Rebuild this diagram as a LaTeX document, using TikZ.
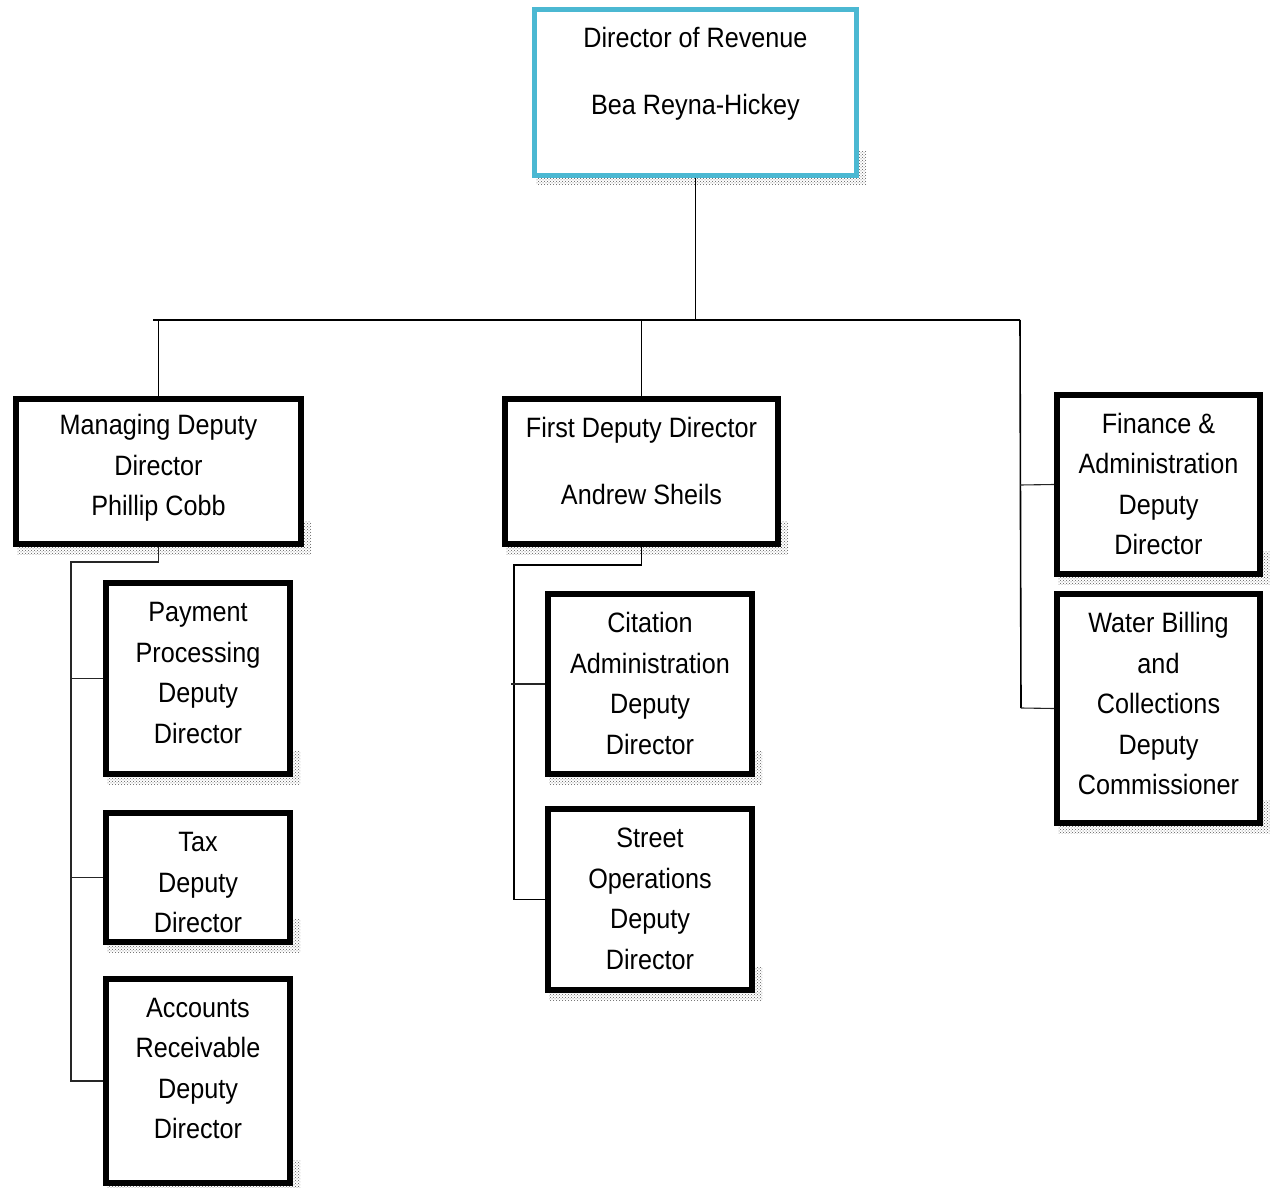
\documentclass[tikz,border=0pt]{standalone}
\usepackage{fontspec}
\setmainfont[FakeStretch=0.9]{Liberation Sans}
\usetikzlibrary{patterns,calc}
\definecolor{topcyan}{RGB}{75,184,210}
\tikzset{
  box/.style={draw=black, line width=6pt, fill=white, rectangle, inner sep=0pt},
  topbox/.style={box, line width=5pt, draw=topcyan},
  lbl/.style={align=center, inner sep=0pt, font=\fontsize{28}{40.5}\selectfont},
  conn/.style={line width=1.6pt, black},
  thinconn/.style={line width=1.1pt, black!85},
  shadowfill/.style={pattern=crosshatch dots, pattern color=black!65},
}
\newcommand{\boxshadow}[1]{%
  \fill[shadowfill] ([xshift=4pt]#1.south west) rectangle ([xshift=7pt,yshift=-7pt]#1.south east);
  \fill[shadowfill] ([yshift=26pt]#1.south east) rectangle ([xshift=7pt]#1.south east);
}
\begin{document}
\begin{tikzpicture}[x=1pt,y=-1pt]
\useasboundingbox (0,0) rectangle (1270,1188);

% boxes
\node[topbox, minimum width=322pt, minimum height=166pt] (dir) at (695.5,92.5) {};
\node[box, minimum width=285pt, minimum height=145pt] (mdd) at (158.5,471.5) {};
\node[box, minimum width=273pt, minimum height=145pt] (fdd) at (641.5,471.5) {};
\node[box, minimum width=203pt, minimum height=179pt] (fin) at (1158.5,484.5) {};
\node[box, minimum width=203pt, minimum height=229pt] (wat) at (1158.5,708.5) {};
\node[box, minimum width=184pt, minimum height=191pt] (pay) at (198,678.5) {};
\node[box, minimum width=184pt, minimum height=129pt] (tax) at (198,877.5) {};
\node[box, minimum width=184pt, minimum height=204pt] (acc) at (198,1081) {};
\node[box, minimum width=204pt, minimum height=180pt] (cit) at (650,684) {};
\node[box, minimum width=204pt, minimum height=181pt] (str) at (650,899.5) {};

% shadows
\boxshadow{dir}
\boxshadow{mdd}
\boxshadow{fdd}
\boxshadow{fin}
\boxshadow{wat}
\boxshadow{pay}
\boxshadow{tax}
\boxshadow{acc}
\boxshadow{cit}
\boxshadow{str}

% labels
\node[lbl] (dirT) at (695.5,73.5) {Director of Revenue\\[26.5pt]Bea Reyna-Hickey};
\node[lbl] (mddT) at (158.5,468) {Managing Deputy\\Director\\Phillip Cobb};
\node[lbl] (fddT) at (641.5,460.5) {First Deputy Director\\[26.5pt]Andrew Sheils};
\node[lbl] (finT) at (1158.5,484) {Finance \&\\Administration\\Deputy\\Director};
\node[lbl] (watT) at (1158.5,703.5) {Water Billing\\and\\Collections\\Deputy\\Commissioner};
\node[lbl] (payT) at (198,673) {Payment\\Processing\\Deputy\\Director};
\node[lbl] (taxT) at (198,882.5) {Tax\\Deputy\\Director};
\node[lbl] (accT) at (198,1068.5) {Accounts\\Receivable\\Deputy\\Director};
\node[lbl] (citT) at (650,683.5) {Citation\\Administration\\Deputy\\Director};
\node[lbl] (strT) at (650,899) {Street\\Operations\\Deputy\\Director};

% connectors
\coordinate (busL) at (153,320);
\coordinate (busR) at (1020,320);
\coordinate (rbot) at (1021,708);
\draw[conn] (dir.south) -- (dir.south |- busL);
\draw[conn] (busL) -- (busR);
\draw[conn] (mdd.north |- busL) -- (mdd.north);
\draw[conn] (fdd.north |- busL) -- (fdd.north);
\draw[conn] (busR) -- (rbot);
\draw[thinconn] (1020,485) -- (fin.west);
\draw[thinconn] (rbot) -- (wat.west);

\coordinate (mL) at (71,562);
\draw[thinconn] (mdd.south) |- (mL) -- (mL |- acc.west) -- (acc.west);
\draw[thinconn] (mL |- pay.west) -- (pay.west);
\draw[thinconn] (mL |- tax.west) -- (tax.west);

\coordinate (fL) at (514,565);
\draw[conn] (fdd.south) |- (fL) -- (fL |- str.west) -- (str.west);
\draw[thinconn] (511,684) -- (cit.west);
\end{tikzpicture}
\end{document}
